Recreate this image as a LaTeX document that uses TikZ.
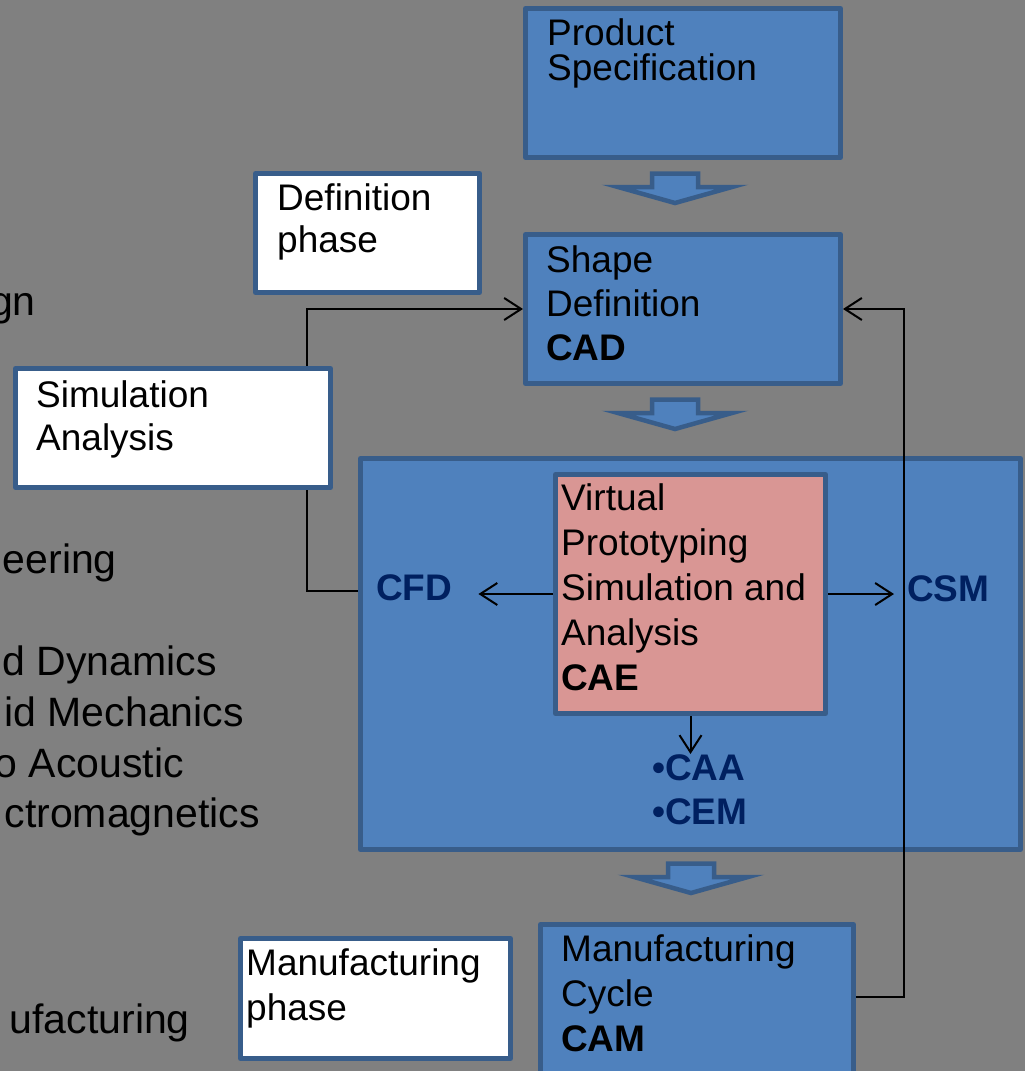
\documentclass[tikz,border=0pt]{standalone}
\usepackage{fontspec}
\setmainfont{Liberation Sans}
\usetikzlibrary{arrows.meta,positioning}
\definecolor{slidegray}{RGB}{128,128,128}
\definecolor{boxblue}{RGB}{79,129,189}
\definecolor{boxedge}{RGB}{56,93,138}
\definecolor{pinkfill}{RGB}{217,150,148}
\definecolor{navy}{RGB}{0,32,96}
\tikzset{
    stage/.style ={draw=boxedge, fill=boxblue, line width=5pt, line join=round, inner sep=0pt},
    phase/.style ={stage, fill=white},
    txt/.style = {inner sep=0pt, align=left, font=\fontsize{37}{44}\selectfont},
    tag/.style = {inner sep=0pt, align=left, text=navy, font=\fontsize{37}{44}\selectfont\bfseries},
    cut/.style = {inner sep=0pt, anchor=base east, font=\fontsize{41}{48}\selectfont},
    conn/.style={line width=2pt, -{Straight Barb[length=17pt,width=22pt]}},
    downblock/.pic={
        \draw[draw=boxedge, fill=boxblue, line width=4.5pt]
            (-23,2.5) -- (23,2.5) -- (23,16) -- (57,16) -- (0,32) -- (-57,16) -- (-23,16) -- cycle;
    }
}
\begin{document}
\begin{tikzpicture}[x=1pt,y=-1pt]
    \useasboundingbox (0,0) rectangle (1025,1071);
    \clip (0,0) rectangle (1025,1071);
    \fill[slidegray] (0,0) rectangle (1025,1071);

    % cut off slide text on the left
    \node[cut] at (36,315) {gn};
    \node[cut] at (117,573) {eering};
    \node[cut] at (217,675) {d Dynamics};
    \node[cut] at (244,726) {id Mechanics};
    \node[cut] at (184,777) {o Acoustic};
    \node[cut] at (260,827) {ctromagnetics};
    \node[cut] at (190,1033) {ufacturing};

    % boxes
    \node[stage, minimum width=315, minimum height=149] (spec) at (683,83) {};
    \node[stage, minimum width=315, minimum height=149] (shape) at (683,309) {};
    \node[phase, minimum width=224, minimum height=119] (defn) at (367.5,233) {};
    \node[stage, minimum width=660, minimum height=391] (big) at (690.5,654) {};
    \node[stage, fill=pinkfill, minimum width=270, minimum height=239] (pink) at (690.5,594) {};
    \node[stage, minimum width=313, minimum height=176] (mfg) at (697,1012.5) {};
    \node[phase, minimum width=270, minimum height=120] (mfgph) at (375.5,998.5) {};

    \node[tag, anchor=base west] (cfd) at (376,600) {CFD};
    \node[tag, anchor=base west] (csm) at (907,601) {CSM};
    \node[tag, anchor=north west] (bul) at (652,754) {•CAA\\•CEM};

    % connector under the simulation box
    \coordinate (lc) at (307,591);
    \draw[conn] (big.west |- lc) -- (lc) |- (shape.west);
    \node[phase, minimum width=315, minimum height=119] (sim) at (173,428) {};

    % feedback from manufacturing
    \coordinate (fb) at (904,997);
    \draw[conn] (mfg.east |- fb) -- (fb) |- (shape.east);

    \draw[conn] (pink.west) -- ([xshift=26pt]pink.west -| cfd.east);
    \draw[conn] (pink.east) -- ([xshift=-13pt]pink.east -| csm.west);
    \draw[conn] (pink.south) -- (pink.south |- bul.north);

    \pic at (675,171) {downblock};
    \pic at (675,397) {downblock};
    \pic at (691,861) {downblock};

    % box texts
    \node[txt, font=\fontsize{37}{35}\selectfont, below right=12.5pt and 24pt of spec.north west] {Product\\Specification};
    \node[txt, font=\fontsize{37}{42}\selectfont, below right=12.5pt and 24pt of defn.north west] {Definition\\phase};
    \node[txt, below right=13.5pt and 23pt of shape.north west] {Shape\\Definition\\\textbf{CAD}};
    \node[txt, font=\fontsize{37}{43}\selectfont, below right=14.5pt and 23pt of sim.north west] {Simulation\\Analysis};
    \node[txt, font=\fontsize{37}{45}\selectfont, below right=11.5pt and 8pt of pink.north west] {Virtual\\Prototyping\\Simulation and\\Analysis\\\textbf{CAE}};
    \node[txt, font=\fontsize{37}{45}\selectfont, below right=12.5pt and 8pt of mfgph.north west] {Manufacturing\\phase};
    \node[txt, font=\fontsize{37}{45}\selectfont, below right=12.5pt and 23pt of mfg.north west] {Manufacturing\\Cycle\\\textbf{CAM}};
\end{tikzpicture}
\end{document}
